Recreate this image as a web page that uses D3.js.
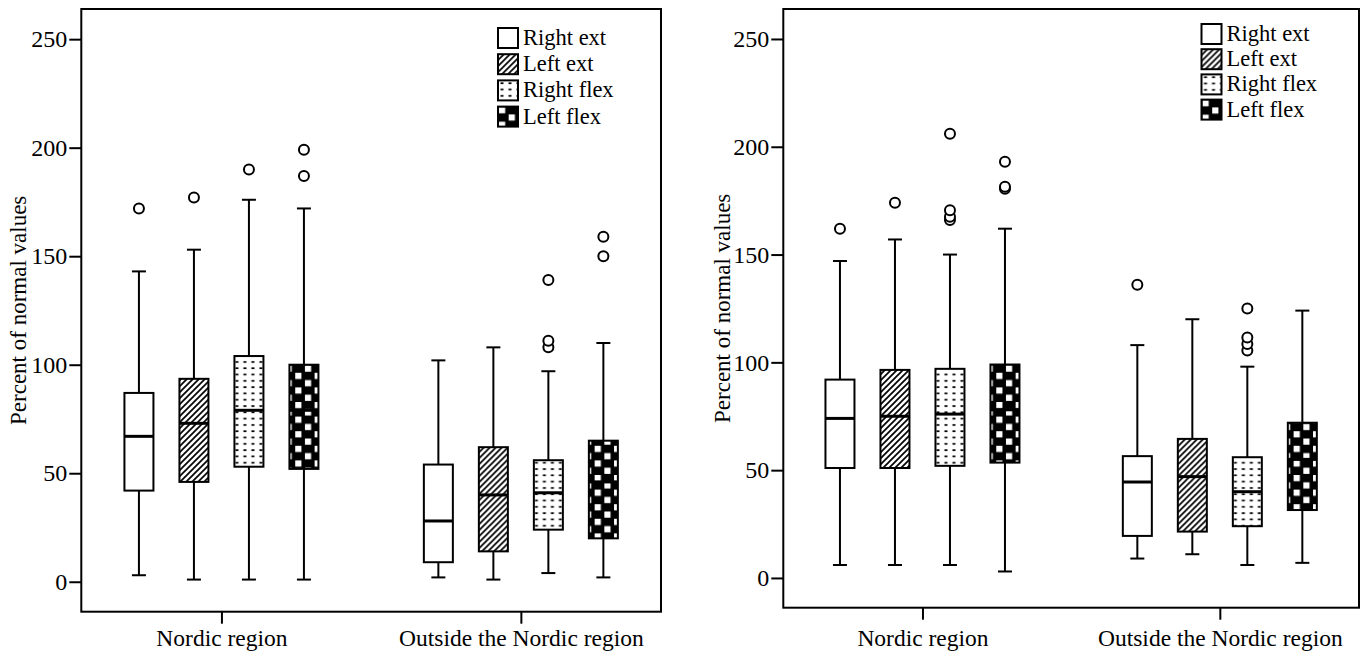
<!DOCTYPE html>
<html>
<head>
<meta charset="utf-8">
<script src="https://cdn.jsdelivr.net/npm/d3@7"></script>
<style>
  body { margin: 0; background: #fff; }
  svg { display: block; }
  text { font-family: "Liberation Serif", "Times New Roman", serif; fill: #000; }
</style>
</head>
<body>
<svg id="chart" width="1362" height="651"></svg>
<script>
// categories / series
const groups = ["Nordic region", "Outside the Nordic region"];
const series = ["Right ext", "Left ext", "Right flex", "Left flex"];
const yTicks = [0, 50, 100, 150, 200, 250];
const yTitle = "Percent of normal values";

// box values per series: [low whisker, q1, median, q3, high whisker]
const leftNordic  = [[3, 42, 67, 87, 143], [1, 46, 73, 93.5, 153], [1, 53, 79, 104, 176], [1, 52, 79, 100, 172]];
const leftOutside = [[2, 9, 28, 54, 102], [1, 14, 40, 62, 108], [4, 24, 41, 56, 97], [2, 20, 46, 65, 110]];
const leftNordicOut  = [[172], [177], [190], [187, 199]];
const leftOutsideOut = [[], [], [108, 111, 139], [150, 159]];

const rightNordic  = [[6, 51, 74, 92, 147], [6, 51, 75, 96.5, 157], [6, 52, 76, 97, 150], [3, 53.5, 78, 99, 162]];
const rightOutside = [[9, 19.5, 44.5, 56.5, 108], [11, 21.5, 47, 64.5, 120], [6, 24, 40, 56, 98], [7, 31.5, 55, 72, 124]];
const rightNordicOut  = [[162], [174], [166, 167.5, 170.5, 206], [180.5, 181.5, 193]];
const rightOutsideOut = [[136], [], [105.5, 108.5, 111.5, 125], []];

const svg = d3.select("#chart");
const fills = ["#fff", "url(#hatch)", "url(#dots)", "url(#checker)"];
const serif = '"Liberation Serif", "Times New Roman", serif';

// パターン定義
const defs = svg.append("defs");
const hatch = defs.append("pattern").attr("id", "hatch")
    .attr("patternUnits", "userSpaceOnUse").attr("width", 6).attr("height", 6);
hatch.append("rect").attr("width", 6).attr("height", 6).attr("fill", "#fff");
hatch.append("path").attr("d", "M-1,1 l2,-2 M0,6 l6,-6 M5,7 l2,-2")
    .attr("stroke", "#000").attr("stroke-width", 1.7);

const dots = defs.append("pattern").attr("id", "dots")
    .attr("patternUnits", "userSpaceOnUse").attr("width", 8).attr("height", 6.3);
dots.append("rect").attr("width", 8).attr("height", 6.3).attr("fill", "#fff");
dots.append("rect").attr("x", 2.5).attr("y", 2).attr("width", 3).attr("height", 1.7).attr("fill", "#000");

const checker = defs.append("pattern").attr("id", "checker")
    .attr("patternUnits", "userSpaceOnUse").attr("width", 19.4).attr("height", 14.6);
checker.append("rect").attr("width", 19.4).attr("height", 14.6).attr("fill", "#000");
checker.append("rect").attr("x", 1).attr("y", 0.5).attr("width", 6.2).attr("height", 6.2).attr("fill", "#fff");
checker.append("rect").attr("x", 10.7).attr("y", 7.8).attr("width", 6.2).attr("height", 6.2).attr("fill", "#fff");

function drawPanel(p) {
    const g = svg.append("g");

    const y = d3.scaleLinear().domain([-13.8, 263.9]).range([p.bottom, p.top]);
    const x = d3.scalePoint().domain(groups).range([p.left, p.right]).padding(0.468);
    const off = d3.scalePoint().domain(series).range([-82.5, 82.5]);
    const boxW = 29, capW = 14;

    // 枠
    g.append("rect")
        .attr("x", p.left).attr("y", p.top)
        .attr("width", p.right - p.left).attr("height", p.bottom - p.top)
        .attr("fill", "none").attr("stroke", "#000").attr("stroke-width", 2);

    // y軸
    const yAxis = g.append("g")
        .attr("transform", `translate(${p.left},0)`)
        .call(d3.axisLeft(y).tickValues(yTicks).tickSize(12).tickPadding(2));
    yAxis.attr("font-family", null).attr("font-size", null);
    yAxis.select(".domain").remove();
    yAxis.selectAll(".tick line").attr("stroke-width", 2);
    yAxis.selectAll(".tick text").style("font-size", "24px").style("font-family", serif);

    // x軸
    const xAxis = g.append("g")
        .attr("transform", `translate(0,${p.bottom})`)
        .call(d3.axisBottom(x).tickSize(12).tickPadding(p.xPad));
    xAxis.attr("font-family", null).attr("font-size", null);
    xAxis.select(".domain").remove();
    xAxis.selectAll(".tick line").attr("stroke-width", 2);
    xAxis.selectAll(".tick text").style("font-size", "23.5px").style("font-family", serif);

    // 軸タイトル
    g.append("text")
        .attr("transform", `translate(${p.titleX},${(p.top + p.bottom) / 2}) rotate(-90)`)
        .attr("text-anchor", "middle")
        .attr("dy", "0.35em")
        .style("font-size", "23px")
        .text(yTitle);

    // 箱ひげ
    const boxes = [];
    groups.forEach((grp, gi) => {
        p.stats[gi].forEach((s, si) => {
            boxes.push({ grp, ser: series[si], si, s, out: p.outliers[gi][si] });
        });
    });

    const bg = g.selectAll(".box").data(boxes).enter().append("g").attr("class", "box")
        .attr("transform", d => `translate(${x(d.grp) + off(d.ser)},0)`);

    bg.append("line").attr("x1", 0).attr("x2", 0)
        .attr("y1", d => y(d.s[0])).attr("y2", d => y(d.s[4]))
        .attr("stroke", "#000").attr("stroke-width", 2);
    bg.append("line").attr("x1", -capW / 2).attr("x2", capW / 2)
        .attr("y1", d => y(d.s[0])).attr("y2", d => y(d.s[0]))
        .attr("stroke", "#000").attr("stroke-width", 2);
    bg.append("line").attr("x1", -capW / 2).attr("x2", capW / 2)
        .attr("y1", d => y(d.s[4])).attr("y2", d => y(d.s[4]))
        .attr("stroke", "#000").attr("stroke-width", 2);
    bg.append("rect")
        .attr("x", -boxW / 2).attr("width", boxW)
        .attr("y", d => y(d.s[3])).attr("height", d => y(d.s[1]) - y(d.s[3]))
        .attr("fill", d => fills[d.si]).attr("stroke", "#000").attr("stroke-width", 2);
    bg.append("line").attr("x1", -boxW / 2).attr("x2", boxW / 2)
        .attr("y1", d => y(d.s[2])).attr("y2", d => y(d.s[2]))
        .attr("stroke", "#000").attr("stroke-width", 3);
    bg.selectAll("circle").data(d => d.out).enter().append("circle")
        .attr("cx", 0).attr("cy", v => y(v)).attr("r", 5)
        .attr("fill", "#fff").attr("stroke", "#000").attr("stroke-width", 2);

    // 凡例
    const lg = g.selectAll(".legend").data(series).enter().append("g").attr("class", "legend")
        .attr("transform", (d, i) => `translate(${p.legX},${p.legY + i * p.legStep})`);
    lg.append("rect").attr("width", 20).attr("height", 20)
        .attr("fill", (d, i) => fills[i]).attr("stroke", "#000").attr("stroke-width", 2);
    lg.append("text").attr("x", 25).attr("y", 17).style("font-size", "22.5px").text(d => d);
}

drawPanel({
    left: 81.3, right: 661, top: 9, bottom: 611.7, titleX: 18, xPad: 6,
    stats: [leftNordic, leftOutside], outliers: [leftNordicOut, leftOutsideOut],
    legX: 498, legY: 28, legStep: 26.2
});
drawPanel({
    left: 783.3, right: 1359, top: 9, bottom: 607.7, titleX: 722, xPad: 10,
    stats: [rightNordic, rightOutside], outliers: [rightNordicOut, rightOutsideOut],
    legX: 1201.5, legY: 24, legStep: 25.2
});
</script>
</body>
</html>
